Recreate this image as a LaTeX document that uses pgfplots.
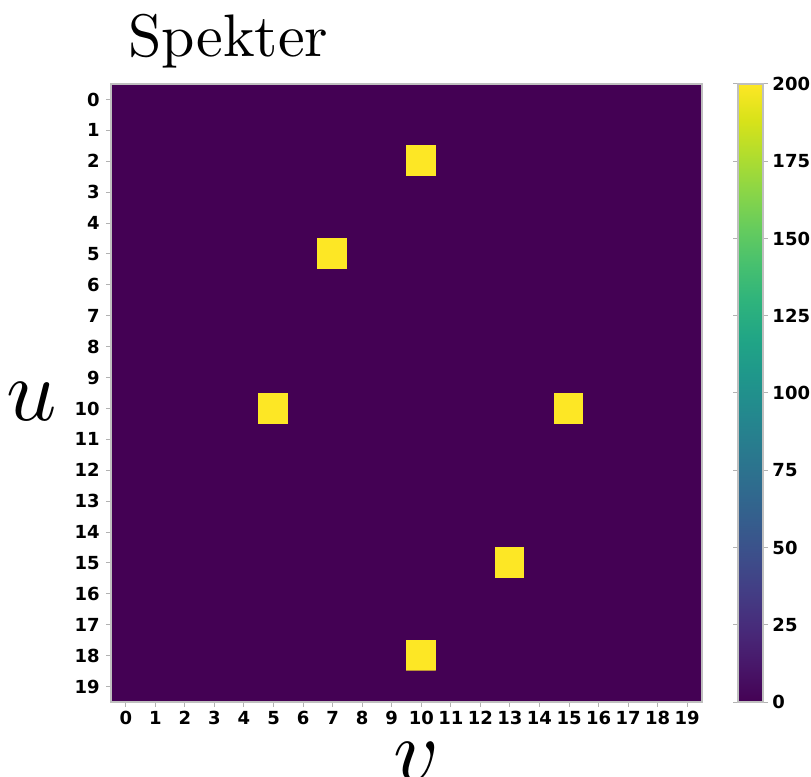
\documentclass[border=0pt]{standalone}
\usepackage{graphicx}
\usepackage{pgfplots}
\pgfplotsset{compat=1.18}
\usepackage{fontspec}
\setsansfont{DejaVu Sans}
\definecolor{vbg}{RGB}{68,1,84}
\pgfplotsset{
  every tick label/.append style={font=\sffamily\bfseries\fontsize{9}{10}\selectfont, text=black},
  /pgf/number format/assume math mode=true,
}
\begin{document}
\begin{tikzpicture}
\begin{axis}[
  name=ax,
  scale only axis, width=295.5pt, height=309pt,
  xmin=-0.5, xmax=19.5, ymin=-0.5, ymax=19.5,
  y dir=reverse,
  enlargelimits=false,
  axis on top,
  axis background/.style={fill=vbg},
  xtick={0,...,19}, ytick={0,...,19},
  tick pos=left,
  tick align=outside, major tick length=2.5pt,
  tick style={gray!60, line width=0.5pt},
  axis line style={gray!50, line width=0.6pt},
  xticklabel style={inner sep=2pt},
  yticklabel style={inner sep=3pt},
  colormap name=viridis,
  point meta min=0, point meta max=200,
  colorbar,
  colorbar style={
    width=12.5pt,
    at={(parent axis.north east)}, anchor=north west, xshift=9.5pt,
    y dir=normal,
    ytick={0,25,...,200},
    tick align=outside, major tick length=2.5pt,
    tick style={gray!60, line width=0.5pt},
    axis line style={gray!50, line width=0.6pt},
    yticklabel style={inner sep=2pt},
  },
  title={\scalebox{3}{Spekter}},
  title style={at={(0,1)}, anchor=base west, xshift=5pt, yshift=8pt},
  xlabel={\scalebox{4.4}{$v$}}, ylabel={\scalebox{4.4}{$u$}},
  xlabel style={at={(axis description cs:0.5,0)}, anchor=center, yshift=-30pt, xshift=5pt},
  ylabel style={rotate=-90, at={(axis description cs:0,0.5)}, anchor=center, xshift=-39.5pt, yshift=-4.5pt},
]
\addplot[matrix plot*, mesh/cols=20, point meta=explicit] coordinates {
(0,0)[0] (1,0)[0] (2,0)[0] (3,0)[0] (4,0)[0] (5,0)[0] (6,0)[0] (7,0)[0] (8,0)[0] (9,0)[0] (10,0)[0] (11,0)[0] (12,0)[0] (13,0)[0] (14,0)[0] (15,0)[0] (16,0)[0] (17,0)[0] (18,0)[0] (19,0)[0]
(0,1)[0] (1,1)[0] (2,1)[0] (3,1)[0] (4,1)[0] (5,1)[0] (6,1)[0] (7,1)[0] (8,1)[0] (9,1)[0] (10,1)[0] (11,1)[0] (12,1)[0] (13,1)[0] (14,1)[0] (15,1)[0] (16,1)[0] (17,1)[0] (18,1)[0] (19,1)[0]
(0,2)[0] (1,2)[0] (2,2)[0] (3,2)[0] (4,2)[0] (5,2)[0] (6,2)[0] (7,2)[0] (8,2)[0] (9,2)[0] (10,2)[200] (11,2)[0] (12,2)[0] (13,2)[0] (14,2)[0] (15,2)[0] (16,2)[0] (17,2)[0] (18,2)[0] (19,2)[0]
(0,3)[0] (1,3)[0] (2,3)[0] (3,3)[0] (4,3)[0] (5,3)[0] (6,3)[0] (7,3)[0] (8,3)[0] (9,3)[0] (10,3)[0] (11,3)[0] (12,3)[0] (13,3)[0] (14,3)[0] (15,3)[0] (16,3)[0] (17,3)[0] (18,3)[0] (19,3)[0]
(0,4)[0] (1,4)[0] (2,4)[0] (3,4)[0] (4,4)[0] (5,4)[0] (6,4)[0] (7,4)[0] (8,4)[0] (9,4)[0] (10,4)[0] (11,4)[0] (12,4)[0] (13,4)[0] (14,4)[0] (15,4)[0] (16,4)[0] (17,4)[0] (18,4)[0] (19,4)[0]
(0,5)[0] (1,5)[0] (2,5)[0] (3,5)[0] (4,5)[0] (5,5)[0] (6,5)[0] (7,5)[200] (8,5)[0] (9,5)[0] (10,5)[0] (11,5)[0] (12,5)[0] (13,5)[0] (14,5)[0] (15,5)[0] (16,5)[0] (17,5)[0] (18,5)[0] (19,5)[0]
(0,6)[0] (1,6)[0] (2,6)[0] (3,6)[0] (4,6)[0] (5,6)[0] (6,6)[0] (7,6)[0] (8,6)[0] (9,6)[0] (10,6)[0] (11,6)[0] (12,6)[0] (13,6)[0] (14,6)[0] (15,6)[0] (16,6)[0] (17,6)[0] (18,6)[0] (19,6)[0]
(0,7)[0] (1,7)[0] (2,7)[0] (3,7)[0] (4,7)[0] (5,7)[0] (6,7)[0] (7,7)[0] (8,7)[0] (9,7)[0] (10,7)[0] (11,7)[0] (12,7)[0] (13,7)[0] (14,7)[0] (15,7)[0] (16,7)[0] (17,7)[0] (18,7)[0] (19,7)[0]
(0,8)[0] (1,8)[0] (2,8)[0] (3,8)[0] (4,8)[0] (5,8)[0] (6,8)[0] (7,8)[0] (8,8)[0] (9,8)[0] (10,8)[0] (11,8)[0] (12,8)[0] (13,8)[0] (14,8)[0] (15,8)[0] (16,8)[0] (17,8)[0] (18,8)[0] (19,8)[0]
(0,9)[0] (1,9)[0] (2,9)[0] (3,9)[0] (4,9)[0] (5,9)[0] (6,9)[0] (7,9)[0] (8,9)[0] (9,9)[0] (10,9)[0] (11,9)[0] (12,9)[0] (13,9)[0] (14,9)[0] (15,9)[0] (16,9)[0] (17,9)[0] (18,9)[0] (19,9)[0]
(0,10)[0] (1,10)[0] (2,10)[0] (3,10)[0] (4,10)[0] (5,10)[200] (6,10)[0] (7,10)[0] (8,10)[0] (9,10)[0] (10,10)[0] (11,10)[0] (12,10)[0] (13,10)[0] (14,10)[0] (15,10)[200] (16,10)[0] (17,10)[0] (18,10)[0] (19,10)[0]
(0,11)[0] (1,11)[0] (2,11)[0] (3,11)[0] (4,11)[0] (5,11)[0] (6,11)[0] (7,11)[0] (8,11)[0] (9,11)[0] (10,11)[0] (11,11)[0] (12,11)[0] (13,11)[0] (14,11)[0] (15,11)[0] (16,11)[0] (17,11)[0] (18,11)[0] (19,11)[0]
(0,12)[0] (1,12)[0] (2,12)[0] (3,12)[0] (4,12)[0] (5,12)[0] (6,12)[0] (7,12)[0] (8,12)[0] (9,12)[0] (10,12)[0] (11,12)[0] (12,12)[0] (13,12)[0] (14,12)[0] (15,12)[0] (16,12)[0] (17,12)[0] (18,12)[0] (19,12)[0]
(0,13)[0] (1,13)[0] (2,13)[0] (3,13)[0] (4,13)[0] (5,13)[0] (6,13)[0] (7,13)[0] (8,13)[0] (9,13)[0] (10,13)[0] (11,13)[0] (12,13)[0] (13,13)[0] (14,13)[0] (15,13)[0] (16,13)[0] (17,13)[0] (18,13)[0] (19,13)[0]
(0,14)[0] (1,14)[0] (2,14)[0] (3,14)[0] (4,14)[0] (5,14)[0] (6,14)[0] (7,14)[0] (8,14)[0] (9,14)[0] (10,14)[0] (11,14)[0] (12,14)[0] (13,14)[0] (14,14)[0] (15,14)[0] (16,14)[0] (17,14)[0] (18,14)[0] (19,14)[0]
(0,15)[0] (1,15)[0] (2,15)[0] (3,15)[0] (4,15)[0] (5,15)[0] (6,15)[0] (7,15)[0] (8,15)[0] (9,15)[0] (10,15)[0] (11,15)[0] (12,15)[0] (13,15)[200] (14,15)[0] (15,15)[0] (16,15)[0] (17,15)[0] (18,15)[0] (19,15)[0]
(0,16)[0] (1,16)[0] (2,16)[0] (3,16)[0] (4,16)[0] (5,16)[0] (6,16)[0] (7,16)[0] (8,16)[0] (9,16)[0] (10,16)[0] (11,16)[0] (12,16)[0] (13,16)[0] (14,16)[0] (15,16)[0] (16,16)[0] (17,16)[0] (18,16)[0] (19,16)[0]
(0,17)[0] (1,17)[0] (2,17)[0] (3,17)[0] (4,17)[0] (5,17)[0] (6,17)[0] (7,17)[0] (8,17)[0] (9,17)[0] (10,17)[0] (11,17)[0] (12,17)[0] (13,17)[0] (14,17)[0] (15,17)[0] (16,17)[0] (17,17)[0] (18,17)[0] (19,17)[0]
(0,18)[0] (1,18)[0] (2,18)[0] (3,18)[0] (4,18)[0] (5,18)[0] (6,18)[0] (7,18)[0] (8,18)[0] (9,18)[0] (10,18)[200] (11,18)[0] (12,18)[0] (13,18)[0] (14,18)[0] (15,18)[0] (16,18)[0] (17,18)[0] (18,18)[0] (19,18)[0]
(0,19)[0] (1,19)[0] (2,19)[0] (3,19)[0] (4,19)[0] (5,19)[0] (6,19)[0] (7,19)[0] (8,19)[0] (9,19)[0] (10,19)[0] (11,19)[0] (12,19)[0] (13,19)[0] (14,19)[0] (15,19)[0] (16,19)[0] (17,19)[0] (18,19)[0] (19,19)[0]
};
\end{axis}
\pgfresetboundingbox
\path[use as bounding box] ([xshift=-55.5pt,yshift=-37pt]ax.south west) rectangle ([xshift=54.5pt,yshift=42pt]ax.north east);
\end{tikzpicture}
\end{document}
